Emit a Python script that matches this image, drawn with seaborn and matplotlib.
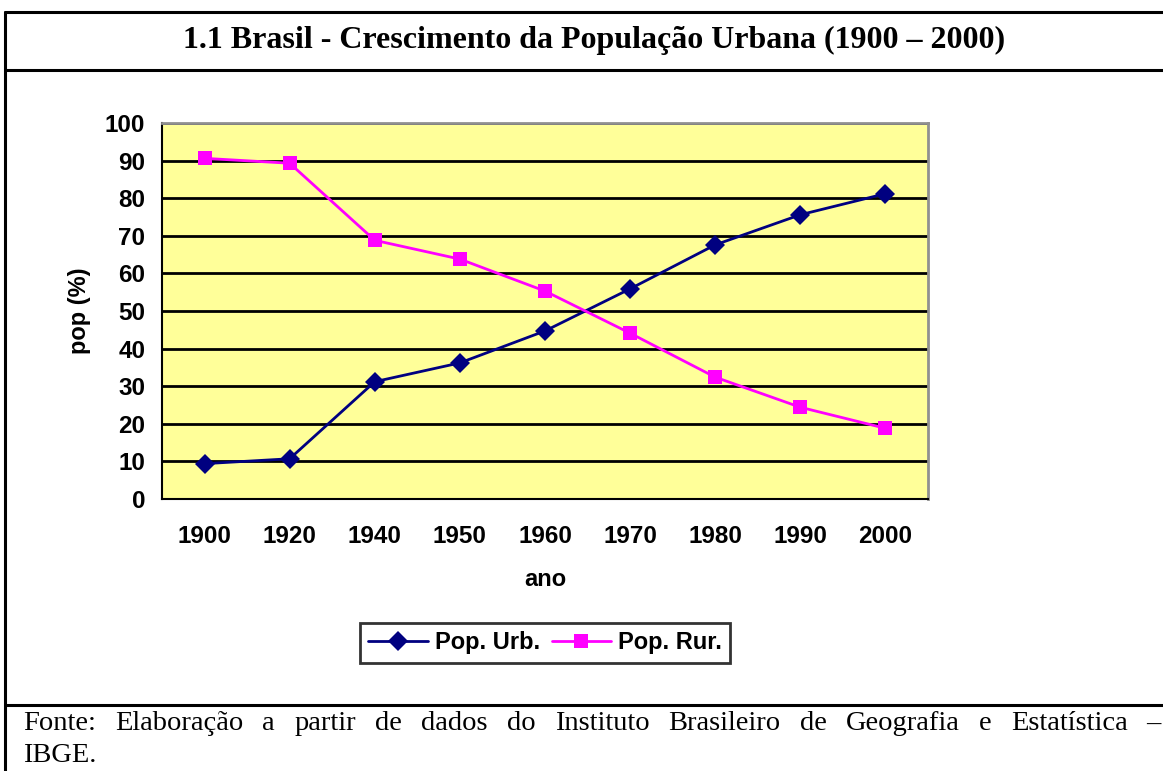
import pandas as pd
import seaborn as sns
import matplotlib.pyplot as plt
from matplotlib.lines import Line2D

# dados (percentual da populacao)
anos = ['1900', '1920', '1940', '1950', '1960', '1970', '1980', '1990', '2000']
pop_urb = [9.4, 10.7, 31.2, 36.2, 44.7, 55.9, 67.6, 75.6, 81.2]
pop_rur = [90.6, 89.3, 68.8, 63.8, 55.3, 44.1, 32.4, 24.4, 18.8]
series = ['Pop. Urb.', 'Pop. Rur.']
titulo = '1.1 Brasil - Crescimento da População Urbana (1900 – 2000)'
fonte_1 = 'Fonte: Elaboração a partir de dados do Instituto Brasileiro de Geografia e Estatística –'
fonte_2 = 'IBGE.'

df = pd.DataFrame({
    'ano': anos * 2,
    'pop': pop_urb + pop_rur,
    'serie': [series[0]] * len(anos) + [series[1]] * len(anos),
})

sns.set_style('white')
plt.rcParams['font.family'] = ['Liberation Sans', 'DejaVu Sans']
plt.rcParams['text.color'] = 'black'
plt.rcParams['axes.labelcolor'] = 'black'
plt.rcParams['xtick.color'] = 'black'
plt.rcParams['ytick.color'] = 'black'

W, H = 1163, 771
fig = plt.figure(figsize=(W / 100, H / 100), dpi=100)

# area do grafico (pixels da imagem de referencia)
left, right, top, bottom = 162, 928, 123, 499
ax = fig.add_axes([left / W, 1 - bottom / H, (right - left) / W, (bottom - top) / H])
ax.set_facecolor('#FFFF99')

sns.lineplot(data=df, x='ano', y='pop', hue='serie', style='serie',
             palette={series[0]: '#000080', series[1]: '#FF00FF'},
             markers={series[0]: 'D', series[1]: 's'}, dashes=False,
             markersize=10, markeredgewidth=0, linewidth=2,
             sort=False, legend=False, ax=ax, zorder=3)

ax.set_xlim(-0.5, len(anos) - 0.5)
ax.set_ylim(0, 100)
ax.set_yticks(range(0, 101, 10))
ax.set_xticks(range(len(anos)))
ax.set_xticklabels(anos)
ax.set_xticks([i - 0.5 for i in range(len(anos) + 1)], minor=True)
ax.tick_params(axis='x', which='major', length=0, pad=19, labelsize=17.5)
ax.tick_params(axis='x', which='minor', length=6, width=1.5, color='black', direction='out')
ax.tick_params(axis='y', length=7, width=1.5, color='black', direction='out', pad=5, labelsize=17.5)
for lab in ax.get_xticklabels() + ax.get_yticklabels():
    lab.set_fontweight('bold')

ax.yaxis.grid(True, color='black', linewidth=2)
ax.set_axisbelow(True)

for s in ['top', 'right']:
    ax.spines[s].set_color('#909090')
    ax.spines[s].set_linewidth(2)
for s in ['left', 'bottom']:
    ax.spines[s].set_color('black')
    ax.spines[s].set_linewidth(1.5)

ax.set_xlabel('ano', fontsize=17, fontweight='bold', labelpad=14)
ax.set_ylabel('pop (%)', fontsize=17, fontweight='bold', labelpad=10)

# legenda abaixo do eixo
handles = [
    Line2D([], [], color='#000080', marker='D', markersize=10, markeredgewidth=0, linewidth=2),
    Line2D([], [], color='#FF00FF', marker='s', markersize=10, markeredgewidth=0, linewidth=2),
]
leg = fig.legend(handles, series, loc='center', bbox_to_anchor=(545 / W, 1 - 643 / H),
                 ncol=2, frameon=True, fancybox=False, handlelength=2.5,
                 columnspacing=0.5, handletextpad=0.3, borderpad=0.35,
                 prop={'weight': 'bold', 'size': 17})
leg.get_frame().set_edgecolor('black')
leg.get_frame().set_linewidth(2)

# moldura da tabela
def linha(x0, y0, x1, y1):
    fig.add_artist(Line2D([x0 / W, x1 / W], [1 - y0 / H, 1 - y1 / H],
                          color='black', linewidth=2.2))

linha(5, 12, W + 5, 12)
linha(5, 70, W + 5, 70)
linha(5, 705, W + 5, 705)
linha(5, 12, 5, H + 5)

serif = ['Liberation Serif', 'DejaVu Serif']
fig.text(594 / W, 1 - 40 / H, titulo, ha='center', va='center',
         fontsize=23, fontweight='bold', family=serif)

# primeira linha da fonte justificada (palavra por palavra)
renderer = fig.canvas.get_renderer()
palavras = fonte_1.split(' ')
textos = [fig.text(0, 1 - 724 / H, p, ha='left', va='center', fontsize=20.5, family=serif)
          for p in palavras]
larg = [t.get_window_extent(renderer).width for t in textos]
x0, x1 = 23, 1161
gap = (x1 - x0 - sum(larg)) / (len(palavras) - 1)
x = x0
for t, w in zip(textos, larg):
    t.set_x(x / W)
    x += w + gap
fig.text(23 / W, 1 - 756 / H, fonte_2, ha='left', va='center', fontsize=20.5, family=serif)

fig.savefig('out.png', dpi=100)
